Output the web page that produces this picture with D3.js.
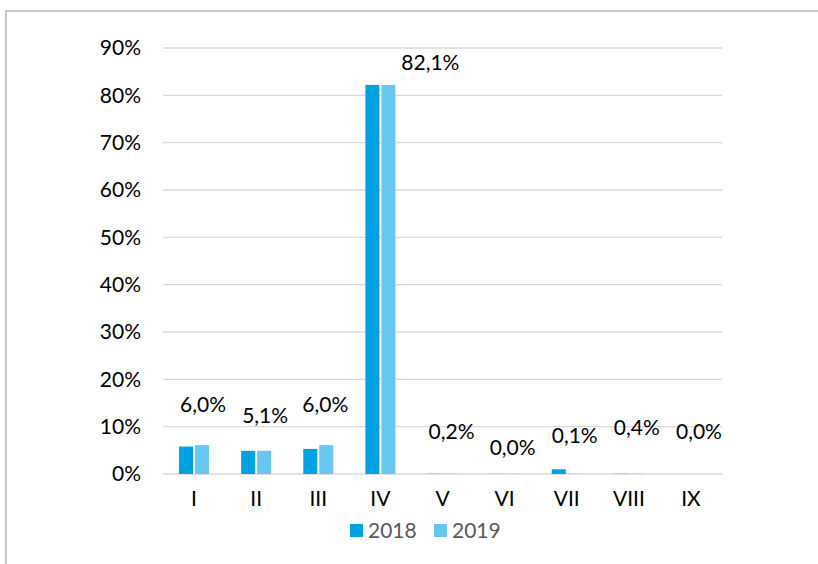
<!DOCTYPE html>
<html>
<head>
<meta charset="utf-8">
<script src="https://cdn.jsdelivr.net/npm/d3@7"></script>
<style>
  body { margin: 0; background: #fff; }
  svg text { font-family: Lato, "Open Sans", sans-serif; }
</style>
</head>
<body>
<div id="chart"></div>
<script>
var width = 818;
var height = 564;

// categories and series (percent)
var categories = ["I", "II", "III", "IV", "V", "VI", "VII", "VIII", "IX"];
var series2018 = [5.8, 4.9, 5.3, 82.2, 0.2, 0.1, 1.0, 0.2, 0.0];
var series2019 = [6.1, 4.9, 6.1, 82.2, 0.2, 0.1, 0.1, 0.2, 0.0];
var seriesNames = ["2018", "2019"];
var seriesColors = ["#00a1e0", "#68c7f0"];

// data labels, as shown in the chart, and the level where each one sits
var labelTexts = ["6,0%", "5,1%", "6,0%", "82,1%", "0,2%", "0,0%", "0,1%", "0,4%", "0,0%"];
var labelLevels = [14.6, 12.3, 14.6, 87.0, 8.9, 5.5, 8.2, 9.7, 8.9];
var labelShift = [9, 9, 7, 50, 9, 8, 8, 8, 8]; // px to the right of category centre

var yTicks = [0, 10, 20, 30, 40, 50, 60, 70, 80, 90];
var fontSize = 21;

var svg = d3.select("#chart").append("svg")
    .attr("width", width)
    .attr("height", height);

// outer frame (cut off at the top and right)
svg.append("path")
    .attr("d", "M6," + height + " V11 H" + width)
    .attr("fill", "none")
    .attr("stroke", "#c9c9c9")
    .attr("stroke-width", 2);

var x = d3.scaleBand()
    .domain(categories)
    .range([163, 722]);

var y = d3.scaleLinear()
    .domain([0, 90])
    .range([474, 48]);

// gridlines
svg.append("g")
  .selectAll("line")
  .data(yTicks)
  .join("line")
    .attr("x1", 163)
    .attr("x2", 722)
    .attr("y1", d => y(d))
    .attr("y2", d => y(d))
    .attr("stroke", "#d9d9d9")
    .attr("stroke-width", 1.3);

// y axis labels
var yAxis = d3.axisLeft(y)
    .tickValues(yTicks)
    .tickSize(0)
    .tickPadding(0)
    .tickFormat(d => d + "%");

svg.append("g")
    .attr("transform", "translate(141,0)")
    .call(yAxis)
    .call(g => g.select(".domain").remove())
    .selectAll("text")
    .attr("font-size", fontSize)
    .attr("fill", "#000");

// x axis labels
var xAxis = d3.axisBottom(x).tickSize(0).tickPadding(0);
svg.append("g")
    .attr("transform", "translate(0,491)")
    .call(xAxis)
    .call(g => g.select(".domain").remove())
    .selectAll("text")
    .attr("font-size", fontSize)
    .attr("fill", "#000");

// bars
var barW = 14, gap = 2;
var allSeries = [series2018, series2019];
allSeries.forEach(function(vals, s) {
  svg.append("g")
    .selectAll("rect")
    .data(vals)
    .join("rect")
      .attr("x", (d, i) => x(categories[i]) + x.bandwidth() / 2 - barW - gap / 2 + s * (barW + gap))
      .attr("y", d => y(d))
      .attr("width", barW)
      .attr("height", d => y(0) - y(d))
      .attr("fill", seriesColors[s])
      .attr("fill-opacity", d => d < 0.5 ? 0.25 : 1);
});

// data labels
svg.append("g")
  .selectAll("text")
  .data(labelTexts)
  .join("text")
    .attr("x", (d, i) => x(categories[i]) + x.bandwidth() / 2 + labelShift[i])
    .attr("y", (d, i) => y(labelLevels[i]))
    .attr("dy", "0.35em")
    .attr("text-anchor", "middle")
    .attr("font-size", fontSize)
    .attr("fill", "#000")
    .text(d => d);

// legend
var legend = svg.append("g");
var legX = [350, 434];
seriesNames.forEach(function(name, s) {
  legend.append("rect")
    .attr("x", legX[s])
    .attr("y", 524)
    .attr("width", 13)
    .attr("height", 13)
    .attr("fill", seriesColors[s]);
  legend.append("text")
    .attr("x", legX[s] + 18)
    .attr("y", 531)
    .attr("dy", "0.35em")
    .attr("font-size", fontSize)
    .attr("fill", "#595959")
    .text(name);
});
</script>
</body>
</html>
